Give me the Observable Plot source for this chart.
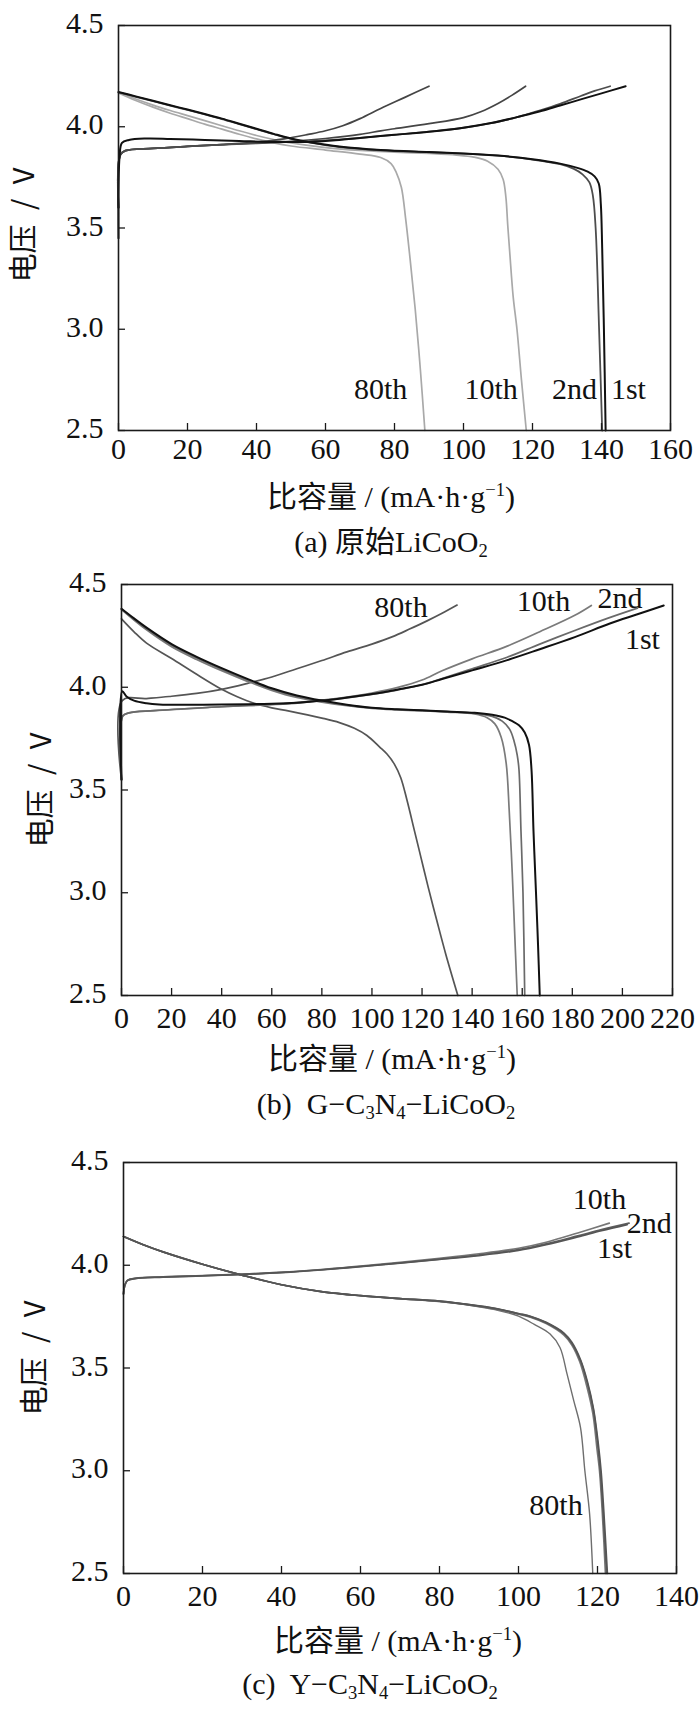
<!DOCTYPE html>
<html><head><meta charset="utf-8">
<script src="https://cdn.jsdelivr.net/npm/d3@7"></script>
<script src="https://cdn.jsdelivr.net/npm/@observablehq/plot@0.6"></script>
<style>
body{margin:0;background:#fff;}
#root{position:relative;width:700px;height:1713px;overflow:hidden;background:#fff;}
.pan{position:absolute;left:0;}
.pan svg text{font-family:"Liberation Serif","Times New Roman",serif !important;}
.t{position:absolute;transform:translate(-50%,-50%);white-space:pre;line-height:1;color:#111;font-family:"Liberation Serif","Noto Sans CJK SC",serif;font-size:30px;}
.yl{position:absolute;transform:translate(-50%,-50%) rotate(-90deg);white-space:pre;line-height:1;color:#111;font-family:"Noto Sans CJK SC",sans-serif;font-size:29px;}
sub,sup{font-size:0.62em;line-height:0;}
sub{vertical-align:-0.28em;} sup{vertical-align:0.6em;}
</style></head>
<body><div id="root"></div>
<script>
// ---------- shared ----------
const yTicks = [2.5, 3.0, 3.5, 4.0, 4.5];
const xTicksA = [0,20,40,60,80,100,120,140,160];
const xTicksB = [0,20,40,60,80,100,120,140,160,180,200,220];
const xTicksC = [0,20,40,60,80,100,120,140];

// ---------- (a) 原始LiCoO2 : [capacity, voltage] ----------
const a1stCharge = [[0,3.45],[0.3,3.85],[1,3.92],[3,3.935],[8,3.942],[15,3.94],[25,3.935],[35,3.93],[45,3.925],[55,3.925],[62,3.932],[70,3.945],[80,3.96],[90,3.975],[100,3.995],[108,4.018],[115,4.045],[122,4.075],[128,4.105],[134,4.135],[140,4.165],[147,4.2]];
const a2ndCharge = [[0,3.6],[0.5,3.86],[2,3.882],[10,3.893],[20,3.903],[30,3.912],[40,3.918],[50,3.925],[60,3.933],[70,3.945],[80,3.96],[90,3.976],[100,3.995],[108,4.018],[115,4.045],[122,4.08],[128,4.113],[134,4.152],[138,4.177],[142.5,4.2]];
const a10thCharge = [[0,3.6],[0.5,3.86],[2,3.882],[10,3.893],[20,3.903],[30,3.912],[40,3.92],[50,3.928],[60,3.942],[70,3.962],[76,3.98],[80,3.99],[90,4.015],[100,4.045],[105,4.074],[110,4.115],[114,4.155],[118,4.2]];
const a80thCharge = [[0,3.6],[0.5,3.86],[2,3.882],[10,3.893],[20,3.903],[30,3.912],[40,3.924],[48,3.94],[55,3.962],[60,3.98],[65,4.005],[70,4.04],[76,4.09],[83,4.145],[90,4.2]];
const a1stDischarge = [[0,4.172],[5,4.15],[10,4.128],[15,4.106],[20,4.085],[25,4.063],[30,4.04],[35,4.015],[40,3.99],[45,3.965],[50,3.942],[56,3.922],[64,3.902],[76,3.885],[90,3.875],[100,3.868],[110,3.858],[120,3.84],[128,3.818],[133,3.797],[136,3.778],[138,3.755],[139.2,3.72],[139.8,3.62],[140.2,3.4],[140.7,3.0],[141.2,2.5]];
const a2ndDischarge = [[0,4.17],[5,4.148],[10,4.126],[15,4.104],[20,4.083],[25,4.061],[30,4.038],[35,4.013],[40,3.988],[45,3.963],[50,3.94],[56,3.92],[64,3.9],[76,3.884],[90,3.874],[100,3.867],[110,3.857],[120,3.838],[128,3.815],[132,3.792],[134.5,3.765],[136.5,3.725],[137.5,3.66],[138.3,3.5],[139.3,3.0],[140.2,2.5]];
const a10thDischarge = [[0,4.17],[5,4.137],[10,4.107],[15,4.08],[20,4.055],[25,4.03],[30,4.005],[35,3.98],[40,3.957],[45,3.937],[50,3.92],[60,3.897],[70,3.883],[80,3.875],[90,3.868],[98,3.86],[103,3.85],[107,3.83],[110,3.79],[111.5,3.74],[112.3,3.65],[112.8,3.52],[113.4,3.38],[114.4,3.16],[115.5,3.0],[116.8,2.75],[118.2,2.5]];
const a80thDischarge = [[0,4.167],[5,4.13],[10,4.097],[15,4.067],[20,4.04],[25,4.013],[30,3.988],[35,3.963],[40,3.94],[45,3.92],[50,3.905],[60,3.885],[70,3.865],[76,3.848],[79,3.818],[80.5,3.775],[82,3.7],[83.2,3.55],[84.5,3.35],[86,3.1],[87.5,2.8],[88.8,2.5]];
const aLabelText = ["80th","10th","2nd","1st"];
const aLabelX = [76, 108, 132.2, 147.8];
const aLabelY = [2.705, 2.705, 2.705, 2.705];

// ---------- (b) G-C3N4-LiCoO2 ----------
const b1stCharge = [[0,3.55],[0.3,3.98],[2,3.955],[5,3.935],[10,3.922],[15,3.916],[20,3.915],[40,3.916],[60,3.92],[70,3.925],[80,3.935],[90,3.95],[100,3.967],[110,3.988],[120,4.012],[128,4.04],[140,4.082],[154,4.132],[167,4.185],[181,4.244],[195,4.31],[206,4.355],[216.5,4.398]];
const b2ndCharge = [[0,3.55],[0.5,3.86],[3,3.875],[13,3.886],[40,3.905],[67,3.92],[80,3.935],[90,3.948],[100,3.965],[110,3.986],[120,4.012],[128,4.042],[140,4.09],[154,4.146],[167,4.21],[181,4.276],[194,4.335],[206,4.385]];
const b10thCharge = [[0,3.55],[0.5,3.86],[3,3.875],[13,3.886],[40,3.905],[67,3.922],[80,3.937],[90,3.952],[100,3.972],[110,3.998],[120,4.035],[128,4.08],[140,4.138],[154,4.2],[167,4.27],[181,4.35],[187.6,4.398]];
const b80thCharge = [[0,3.55],[0.3,3.935],[10,3.945],[19,3.955],[30,3.97],[40,3.99],[50,4.018],[60,4.05],[70,4.09],[80,4.13],[90,4.172],[100,4.21],[108,4.245],[115,4.283],[122,4.323],[128,4.36],[134,4.4]];
const b1stDischarge = [[0,4.382],[5,4.335],[10,4.29],[20,4.21],[30,4.148],[40,4.093],[50,4.042],[60,3.995],[70,3.96],[80,3.935],[90,3.915],[100,3.9],[110,3.893],[120,3.888],[130,3.882],[141,3.876],[148,3.866],[153,3.852],[156,3.835],[158.7,3.815],[161,3.78],[162.7,3.72],[163.7,3.6],[164.5,3.3],[165.5,3.0],[166.3,2.75],[167,2.5]];
const b2ndDischarge = [[0,4.38],[5,4.331],[10,4.285],[20,4.204],[30,4.142],[40,4.087],[50,4.037],[60,3.99],[70,3.955],[80,3.932],[90,3.913],[100,3.899],[110,3.892],[120,3.887],[130,3.881],[141,3.873],[148,3.858],[152,3.835],[155,3.795],[156.7,3.74],[158,3.67],[158.7,3.6],[159.5,3.3],[160.3,3.0],[161,2.5]];
const b10thDischarge = [[0,4.378],[5,4.327],[10,4.279],[20,4.197],[30,4.135],[40,4.08],[50,4.03],[60,3.985],[70,3.95],[80,3.928],[90,3.91],[100,3.897],[110,3.89],[120,3.885],[130,3.879],[141,3.87],[146,3.852],[149,3.823],[151.6,3.757],[153.6,3.63],[154.8,3.4],[156,3.1],[157,2.8],[158,2.5]];
const b80thDischarge = [[0,4.333],[5,4.27],[10,4.215],[20,4.14],[30,4.063],[40,3.99],[46,3.955],[53,3.922],[60,3.9],[67,3.884],[80,3.85],[87,3.828],[93,3.8],[98,3.765],[103,3.71],[106,3.675],[109,3.625],[111.5,3.56],[114,3.45],[117,3.3],[119.7,3.165],[122.4,3.03],[126,2.86],[129.5,2.7],[134.3,2.5]];
const bLabelText = ["80th","10th","2nd","1st"];
const bLabelX = [111.6, 168.5, 199, 208];
const bLabelY = [4.39, 4.418, 4.43, 4.235];

// ---------- (c) Y-C3N4-LiCoO2 ----------
const c1stCharge = [[0,3.86],[0.3,3.9],[1,3.925],[3,3.935],[10,3.942],[20,3.948],[30,3.955],[40,3.964],[50,3.977],[60,3.993],[70,4.01],[80,4.028],[90,4.047],[100,4.072],[107,4.1],[115,4.138],[121,4.168],[127.5,4.198]];
const c2ndCharge = [[0,3.86],[0.3,3.9],[1,3.926],[3,3.936],[10,3.943],[20,3.949],[30,3.956],[40,3.965],[50,3.978],[60,3.994],[70,4.011],[80,4.03],[90,4.05],[100,4.076],[107,4.104],[115,4.143],[121,4.173],[128,4.205]];
const c10thCharge = [[0,3.86],[0.3,3.9],[1,3.927],[3,3.937],[10,3.944],[20,3.95],[30,3.957],[40,3.966],[50,3.979],[60,3.996],[70,4.014],[80,4.034],[90,4.056],[100,4.083],[107,4.112],[115,4.157],[123,4.205]];
const c1stDischarge = [[0,4.14],[5,4.1],[10,4.065],[20,4.005],[30,3.952],[40,3.905],[50,3.872],[60,3.852],[70,3.838],[80,3.825],[90,3.802],[95,3.787],[100,3.765],[103,3.752],[107,3.722],[111.5,3.67],[113.5,3.625],[115.7,3.54],[117.5,3.43],[119,3.3],[120.2,3.13],[120.9,3.0],[121.6,2.8],[122.5,2.5]];
const c2ndDischarge = [[0,4.14],[5,4.1],[10,4.065],[20,4.005],[30,3.952],[40,3.905],[50,3.872],[60,3.852],[70,3.838],[80,3.825],[90,3.801],[95,3.786],[100,3.764],[103,3.75],[107,3.72],[111.5,3.667],[113.5,3.62],[115.7,3.535],[117.5,3.42],[119,3.29],[120.1,3.12],[120.7,3.0],[121.4,2.8],[122.3,2.5]];
const c10thDischarge = [[0,4.14],[5,4.1],[10,4.065],[20,4.005],[30,3.952],[40,3.905],[50,3.872],[60,3.852],[70,3.838],[80,3.824],[90,3.8],[95,3.784],[100,3.762],[103,3.747],[107,3.716],[111.5,3.66],[113.5,3.612],[115.5,3.53],[117.3,3.41],[118.8,3.28],[119.9,3.1],[120.5,3.0],[121.2,2.8],[122,2.5]];
const c80thDischarge = [[0,4.14],[5,4.1],[10,4.065],[20,4.005],[30,3.952],[40,3.905],[50,3.872],[60,3.852],[70,3.837],[80,3.823],[90,3.798],[95,3.78],[100,3.752],[104,3.712],[108,3.665],[110.5,3.6],[112.3,3.47],[114,3.34],[115.7,3.21],[116.8,3.0],[118,2.79],[118.8,2.5]];
const cLabelText = ["10th","2nd","1st","80th"];
const cLabelX = [120.5, 133.1, 124.3, 109.5];
const cLabelY = [4.32, 4.206, 4.084, 2.833];

// ---------- build ----------
const serif = "'Liberation Serif','Times New Roman',serif";
const labelRows = (t, x, y) => t.map((s, i) => ({t: s, x: x[i], y: y[i]}));

const panels = [
  {top: 0, frameH: 405, left: 118, right: 30, xDomain: [0,160], xTicks: xTicksA, xPad: 7,
   series: [
     [a80thDischarge, "#a9a9a9", 1.7], [a10thDischarge, "#a9a9a9", 1.7],
     [a80thCharge, "#454545", 1.7], [a10thCharge, "#454545", 1.7],
     [a2ndCharge, "#4d4d4d", 1.8], [a2ndDischarge, "#4d4d4d", 1.8],
     [a1stCharge, "#111", 2.0], [a1stDischarge, "#111", 2.0]],
   labels: labelRows(aLabelText, aLabelX, aLabelY)},
  {top: 559, frameH: 411, left: 121, right: 28, xDomain: [0,220], xTicks: xTicksB, xPad: 11,
   series: [
     [b80thCharge, "#555", 1.7], [b80thDischarge, "#555", 1.7],
     [b10thCharge, "#7a7a7a", 1.7], [b10thDischarge, "#7a7a7a", 1.7],
     [b2ndCharge, "#6a6a6a", 1.7], [b2ndDischarge, "#6a6a6a", 1.7],
     [b1stCharge, "#111", 2.0], [b1stDischarge, "#111", 2.0]],
   labels: labelRows(bLabelText, bLabelX, bLabelY)},
  {top: 1137, frameH: 411, left: 123, right: 24, xDomain: [0,140], xTicks: xTicksC, xPad: 11,
   series: [
     [c80thDischarge, "#6e6e6e", 1.4],
     [c10thCharge, "#777", 1.6], [c10thDischarge, "#777", 1.6],
     [c2ndCharge, "#5e5e5e", 1.7], [c2ndDischarge, "#5e5e5e", 1.7],
     [c1stCharge, "#555", 1.7], [c1stDischarge, "#555", 1.7]],
   labels: labelRows(cLabelText, cLabelX, cLabelY)}
];

const root = document.getElementById("root");

for (const p of panels) {
  const marks = p.series.map(([pts, color, w]) =>
    Plot.line(pts, {x: d => d[0], y: d => d[1], stroke: color, strokeWidth: w, curve: "catmull-rom"}));
  marks.push(Plot.text(p.labels, {x: "x", y: "y", text: "t", fill: "#111", fontSize: 30, fontFamily: serif}));
  marks.push(Plot.frame({stroke: "#1a1a1a", strokeWidth: 1.6}));
  marks.push(Plot.axisX(p.xTicks, {tickSize: -7, fill: "none", stroke: "#1a1a1a", strokeWidth: 1.3, label: null}));
  marks.push(Plot.axisX(p.xTicks, {tickSize: 0, tickPadding: p.xPad, stroke: "none", fill: "#111", label: null, fontFamily: serif, fontSize: 30, tickFormat: d => String(d)}));
  marks.push(Plot.axisY(yTicks, {tickSize: -7, fill: "none", stroke: "#1a1a1a", strokeWidth: 1.3, label: null}));
  marks.push(Plot.axisY(yTicks, {tickSize: 0, tickPadding: 15, stroke: "none", fill: "#111", label: null, dy: -2, fontFamily: serif, fontSize: 30, tickFormat: d3.format(".1f")}));
  const svg = Plot.plot({
    width: 700, height: 25 + p.frameH + 45,
    marginLeft: p.left, marginRight: p.right, marginTop: 25, marginBottom: 45,
    x: {domain: p.xDomain},
    y: {domain: [2.5, 4.5]},
    style: {fontFamily: serif, fontSize: "30px", background: "transparent", color: "#111", overflow: "visible"},
    marks
  });
  const wrap = document.createElement("div");
  wrap.className = "pan";
  wrap.style.top = p.top + "px";
  wrap.appendChild(svg);
  root.appendChild(wrap);
}

// ---------- HTML text (axis titles & captions) ----------
const texts = [
  ["yl", 21, 225, "电压 / V"],
  ["t", 391, 497, "比容量 / (mA·h·g<sup>−1</sup>)"],
  ["t", 391, 542, "(a) 原始LiCoO<sub>2</sub>"],
  ["yl", 38, 790, "电压 / V"],
  ["t", 392, 1059, "比容量 / (mA·h·g<sup>−1</sup>)"],
  ["t", 386, 1104, "(b)  G−C<sub>3</sub>N<sub>4</sub>−LiCoO<sub>2</sub>"],
  ["yl", 32, 1358, "电压 / V"],
  ["t", 398, 1641, "比容量 / (mA·h·g<sup>−1</sup>)"],
  ["t", 370, 1684, "(c)  Y−C<sub>3</sub>N<sub>4</sub>−LiCoO<sub>2</sub>"]
];
for (const [cls, x, y, html] of texts) {
  const d = document.createElement("div");
  d.className = cls;
  d.style.left = x + "px";
  d.style.top = y + "px";
  if (cls === "yl") d.style.wordSpacing = "8px";
  d.innerHTML = html;
  root.appendChild(d);
}
</script>
</body></html>
